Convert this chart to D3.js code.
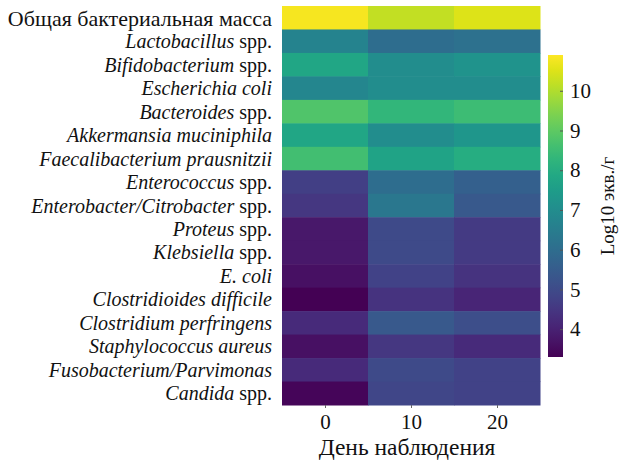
<!DOCTYPE html>
<html><head><meta charset="utf-8">
<script src="https://cdn.jsdelivr.net/npm/d3@7"></script>
<style>body{margin:0;background:#fff}svg{display:block}text{font-family:"Liberation Serif","DejaVu Serif",serif;fill:#111}</style>
</head><body><svg id="c" width="631" height="461"></svg>
<script>
// [italic part, regular part]
const taxa = [
  ["", "Общая бактериальная масса"],
  ["Lactobacillus", " spp."],
  ["Bifidobacterium", " spp."],
  ["Escherichia coli", ""],
  ["Bacteroides", " spp."],
  ["Akkermansia muciniphila", ""],
  ["Faecalibacterium prausnitzii", ""],
  ["Enterococcus", " spp."],
  ["Enterobacter/Citrobacter", " spp."],
  ["Proteus", " spp."],
  ["Klebsiella", " spp."],
  ["E. coli", ""],
  ["Clostridioides difficile", ""],
  ["Clostridium perfringens", ""],
  ["Staphylococcus aureus", ""],
  ["Fusobacterium/Parvimonas", ""],
  ["Candida", " spp."]
];
const days = [0, 10, 20];
const day0  = [10.8, 6.7, 7.8, 6.8, 8.8, 7.8, 8.6, 4.7, 4.5, 3.8, 3.8, 3.6, 3.3, 4.2, 3.6, 4.2, 3.4];
const day10 = [10.2, 6.0, 7.0, 7.0, 8.3, 7.0, 7.7, 6.0, 6.3, 5.0, 5.0, 4.8, 4.4, 5.4, 4.5, 5.0, 4.9];
const day20 = [10.5, 6.1, 7.2, 7.0, 8.5, 7.3, 8.0, 5.6, 5.4, 4.6, 4.6, 4.4, 4.1, 5.1, 4.2, 4.8, 4.8];
const colorTicks = [4, 5, 6, 7, 8, 9, 10];
const colorDomain = [3.3, 10.9];

const series = [day0, day10, day20];
const svg = d3.select("#c");
const x = d3.scaleLinear().domain([-5, 25]).range([282, 540]);
const y = d3.scaleBand().domain(d3.range(taxa.length)).range([6, 405]);
const color = d3.scaleSequential(d3.interpolateViridis).domain(colorDomain);

const cells = [];
days.forEach((d, j) => series[j].forEach((v, i) => cells.push({d, i, v})));
svg.append("g").selectAll("rect").data(cells).join("rect")
  .attr("x", c => x(c.d - 5)).attr("width", x(5) - x(-5) + 0.5)
  .attr("y", c => y(c.i)).attr("height", y.bandwidth() + 0.5)
  .attr("fill", c => color(c.v));

// y labels
const lab = svg.append("g");
taxa.forEach((t, i) => {
  const tx = lab.append("text").attr("x", 272).attr("y", y(i) + y.bandwidth() / 2)
    .attr("text-anchor", "end").attr("dominant-baseline", "central")
    .style("font-size", t[0] ? "20px" : "22px");
  if (t[0]) tx.append("tspan").style("font-style", "italic").text(t[0]);
  if (t[1]) tx.append("tspan").text(t[1]);
});

// x axis
const xa = svg.append("g").attr("transform", "translate(0,405)")
  .call(d3.axisBottom(x).tickValues(days).tickSize(3).tickPadding(6));
xa.select(".domain").remove();
xa.selectAll("text").style("font-size", "21px").style("font-family", "Liberation Serif");
xa.selectAll("line").attr("stroke", "#666");
svg.append("text").attr("x", 407).attr("y", 455).attr("text-anchor", "middle")
  .style("font-size", "23.5px").text("День наблюдения");

// colorbar
const cy = d3.scaleLinear().domain(colorDomain).range([357, 55]);
const defs = svg.append("defs");
const grad = defs.append("linearGradient").attr("id", "g").attr("x1", 0).attr("y1", 1).attr("x2", 0).attr("y2", 0);
d3.range(0, 1.001, 0.05).forEach(t => grad.append("stop").attr("offset", t)
  .attr("stop-color", color(colorDomain[0] + t * (colorDomain[1] - colorDomain[0]))));
svg.append("rect").attr("x", 548).attr("y", 55).attr("width", 15).attr("height", 302).attr("fill", "url(#g)");
const ca = svg.append("g").attr("transform", "translate(563,0)")
  .call(d3.axisRight(cy).tickValues(colorTicks).tickSize(0).tickPadding(7));
ca.select(".domain").remove();
ca.selectAll("text").style("font-size", "21px").style("font-family", "Liberation Serif");
ca.selectAll(".tick").append("line").attr("x1", -3).attr("x2", 0).attr("stroke", "#555");
svg.append("text").attr("transform", "translate(607,206) rotate(-90)").attr("text-anchor", "middle")
  .attr("dominant-baseline", "central").style("font-size", "19px").text("Log10 экв./г");
</script></body></html>
